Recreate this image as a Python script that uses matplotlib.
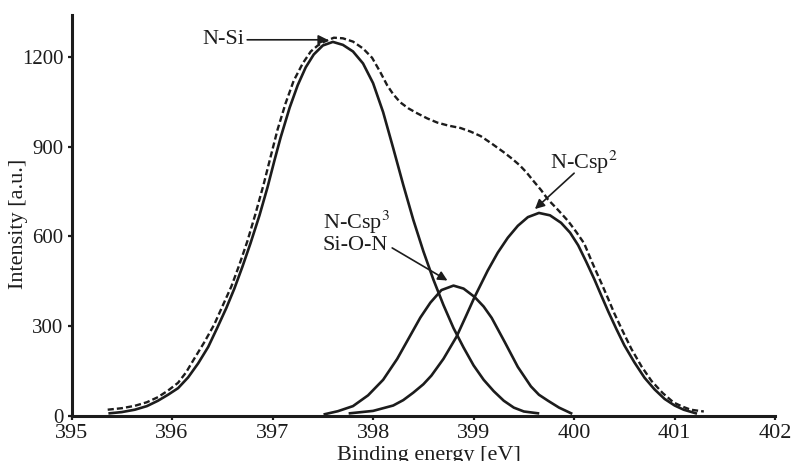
import matplotlib.pyplot as plt

# N-Si component
nsi_x = [395.38, 395.5, 395.63, 395.75, 395.86, 395.96, 396.06, 396.16, 396.26, 396.36,
         396.45, 396.54, 396.62, 396.7, 396.78, 396.87, 396.95, 397.02, 397.08, 397.17,
         397.25, 397.33, 397.41, 397.5, 397.6, 397.7, 397.8, 397.9, 398.0, 398.1,
         398.2, 398.3, 398.4, 398.5, 398.6, 398.7, 398.8, 398.9, 399.0, 399.1,
         399.2, 399.3, 399.4, 399.5, 399.64]
nsi_y = [8, 12, 20, 32, 50, 70, 92, 128, 175, 230,
         294, 360, 425, 498, 576, 670, 764, 855, 930, 1030,
         1105, 1165, 1208, 1238, 1250, 1240, 1218, 1178, 1112, 1015,
         895, 772, 655, 550, 455, 370, 293, 228, 168, 120,
         82, 50, 27, 14, 8]

# N-Csp3 / Si-O-N component
csp3_x = [397.52, 397.65, 397.8, 397.95, 398.1, 398.24, 398.37, 398.47, 398.57, 398.68,
          398.8, 398.9, 399.01, 399.1, 399.18, 399.31, 399.44, 399.57, 399.65, 399.74,
          399.85, 399.97]
csp3_y = [5, 15, 32, 68, 120, 190, 268, 328, 378, 420,
          435, 425, 397, 365, 327, 246, 163, 98, 70, 50,
          27, 8]

# N-Csp2 component
csp2_x = [397.77, 398.0, 398.2, 398.3, 398.4, 398.5, 398.58, 398.7, 398.83, 398.92,
          399.01, 399.14, 399.24, 399.34, 399.44, 399.54, 399.65, 399.76, 399.87, 399.96,
          400.04, 400.12, 400.2, 400.27, 400.34, 400.42, 400.5, 400.6, 400.7, 400.8,
          400.9, 401.0, 401.09, 401.21]
csp2_y = [8, 16, 34, 52, 77, 105, 134, 190, 264, 330,
          397, 485, 545, 595, 635, 664, 678, 670, 645, 612,
          570, 515, 457, 402, 348, 290, 235, 178, 127, 88,
          56, 34, 20, 8]

# envelope (dashed)
env_x = [395.36, 395.5, 395.63, 395.75, 395.86, 395.96, 396.06, 396.14, 396.22, 396.32,
         396.42, 396.5, 396.59, 396.67, 396.75, 396.83, 396.91, 396.98, 397.05, 397.13,
         397.21, 397.3, 397.38, 397.45, 397.51, 397.61, 397.7, 397.8, 397.9, 397.99,
         398.07, 398.14, 398.2, 398.27, 398.35, 398.44, 398.54, 398.64, 398.75, 398.87,
         398.97, 399.07, 399.18, 399.3, 399.38, 399.46, 399.53, 399.6, 399.67, 399.74,
         399.84, 399.94, 400.02, 400.1, 400.18, 400.27, 400.34, 400.4, 400.48, 400.57,
         400.67, 400.77, 400.88, 400.99, 401.08, 401.16, 401.29]
env_y = [20, 25, 33, 45, 62, 84, 110, 145, 190, 245,
         305, 365, 432, 505, 584, 675, 772, 865, 957, 1045,
         1120, 1178, 1218, 1238, 1250, 1264, 1262, 1251, 1228, 1197,
         1150, 1105, 1075, 1048, 1028, 1011, 994, 980, 970, 962,
         950, 935, 910, 881, 860, 837, 812, 783, 755, 723,
         688, 651, 615, 576, 512, 444, 390, 342, 285, 223,
         165, 116, 76, 44, 30, 20, 14]

x_ticks = [395, 396, 397, 398, 399, 400, 401, 402]
y_ticks = [0, 300, 600, 900, 1200]

plt.rcParams['font.family'] = ['Liberation Serif', 'DejaVu Serif']
plt.rcParams['mathtext.fontset'] = 'stix'

ink = '#1c1c1c'
fig = plt.figure(figsize=(7.91, 4.61), dpi=100)
ax = fig.add_axes([0.0904, 0.0983, 0.8896, 0.8692])

for xs, ys in [(nsi_x, nsi_y), (csp3_x, csp3_y), (csp2_x, csp2_y)]:
    ax.plot(xs, ys, color=ink, lw=1.9, solid_joinstyle='round')
ax.plot(env_x, env_y, color=ink, lw=1.7, linestyle=(0, (2.6, 1.3)))

ax.set_xlim(395, 402)
ax.set_ylim(0, 1340)
ax.set_xticks(x_ticks)
ax.set_yticks(y_ticks)
for s in ['top', 'right']:
    ax.spines[s].set_visible(False)
for s in ['left', 'bottom']:
    ax.spines[s].set_linewidth(2.2)
    ax.spines[s].set_color(ink)
ax.tick_params(direction='out', length=3, width=1.6, colors=ink)
ax.tick_params(axis='x', labelsize=16, pad=3)
ax.tick_params(axis='y', labelsize=15, pad=3)

ax.set_xlabel('Binding energy [eV]', fontsize=16, color=ink, va='top')
ax.xaxis.set_label_coords(0.508, -0.076)
ax.set_ylabel('Intensity [a.u.]', fontsize=16, color=ink)
ax.yaxis.set_label_coords(-0.062, 0.478)

arrow = dict(arrowstyle='-|>', color=ink, lw=1.2, shrinkA=0, shrinkB=0, mutation_scale=14)
ax.annotate('N-Si', xy=(397.55, 1257), xytext=(396.72, 1257), ha='right', va='center',
            fontsize=16, color=ink, arrowprops=arrow)

ax.text(397.5, 616, 'N-Csp$^3$\nSi-O-N', ha='left', va='center', fontsize=16,
        color=ink, linespacing=1.0)
ax.annotate('', xy=(398.74, 452), xytext=(398.19, 561), arrowprops=arrow)

ax.text(400.1, 848, 'N-Csp$^2$', ha='center', va='center', fontsize=16, color=ink)
ax.annotate('', xy=(399.61, 691), xytext=(400.0, 811), arrowprops=arrow)

fig.savefig('out.png', dpi=100)
